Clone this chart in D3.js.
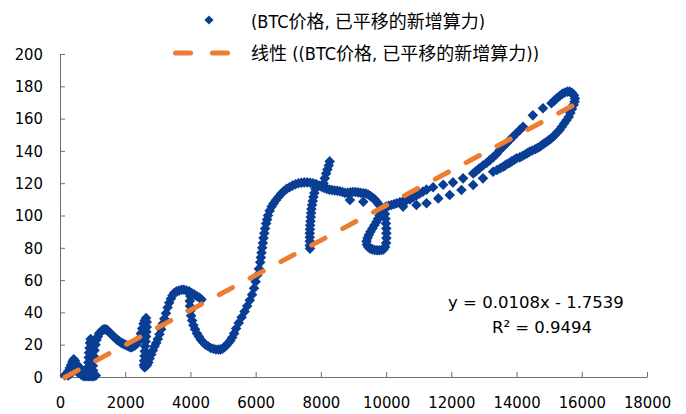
<!DOCTYPE html>
<html><head><meta charset="utf-8">
<script src="https://cdn.jsdelivr.net/npm/d3@7"></script>
<style>html,body{margin:0;padding:0;background:#fff;} svg{display:block;}</style>
</head><body><svg id="chart" width="686" height="414"></svg>
<script>
// ---- data: [BTC price, shifted new hash rate] ----
const segOrigin = [[150,1],[200,2],[250,3.5],[300,5.5],[340,7.5],[380,9.5],[420,11],[460,10],[500,8],[530,6],[560,4],[600,2.5],[640,1.5],[690,1],[740,0.5],[800,0.5],[860,0.5],[920,0.5],[980,0.5],[1040,0.5],[1100,1],
  [250,1],[320,2],[400,3.5],[470,5],[540,3],[600,6],[650,4],[700,3],[750,2],[350,3],[450,6],
  [850,3],[860,6],[870,9],[880,12],[890,15],[905,18],[920,21],[940,23.5],[960,22],[975,19],[985,16],[995,13],[1005,10],[1010,7],[1015,4]];
const segBump = [[1030,13],[1060,16.5],[1090,20],[1120,23],[1160,25],[1200,27],[1250,28],[1300,29],[1350,29.5],[1400,29.5],[1450,29],[1500,28],[1550,27],[1600,26],[1650,25],[1700,24],[1750,23],[1800,22.5],[1850,21.5],[1900,21],[1950,20.5],[2000,20],[2050,19.5],[2100,19],[2150,18.5],[2200,18.5],[2250,19],[2300,19.5],[2350,20.5],[2400,22],[2440,24],[2480,27],[2520,30],[2560,33],[2600,35],[2640,36.5],[2660,34],[2660,31],[2650,28],[2640,25],[2625,22],[2610,19],[2600,16],[2590,13],[2580,10],[2570,7.5],[2590,6],[2630,6.5],[2670,7.5]];
const segPlateau = [[2710,9],[2750,11.5],[2800,14],[2850,16.5],[2900,19],[2950,21],[3000,23.5],[3050,26.5],[3100,29.5],[3150,33],[3200,36],[3250,39.5],[3300,43],[3350,46],[3400,48.5],[3450,50.5],[3500,52],[3570,53],[3650,53.5],[3730,54],[3800,54],[3880,53.5],[3960,53],[4040,52],[4120,51],[4200,50],[4280,49],[4340,48],
  [4000,50],[3980,47],[3985,44],[4000,41],[4020,38],[4050,35],[4090,32],[4140,29.5],[4200,27],[4260,25],[4320,23],[4390,21.5],[4460,20],[4540,19],[4620,18],[4700,17.5],[4780,17],[4860,17],[4920,17],[4980,17.5],[5040,18.5],[5100,19.5],[5160,21],[5220,22.5],[5280,24.5],[5340,27],[5400,30]];
const segArc = [[5480,33.5],[5570,37],[5660,40.5],[5740,44],[5820,47.5],[5890,51],[5950,55],[6000,59],[6050,63],[6100,67],[6140,71],[6160,74],[6180,77],[6200,80],[6220,83],[6240,86],[6265,89],[6290,92],[6320,95],[6350,97.5],
  [6380,100],[6430,103],[6490,105.5],[6550,107.5],[6620,109.5],[6700,111.5],[6780,113.5],[6860,115],[6950,116.5],[7040,117.5],[7130,118.5],[7220,119.3],[7310,120],[7400,120.3],[7490,120.5],[7580,120.5],[7670,120.3],[7760,120],[7850,119.5],[7940,118.5],[8020,117.8]];
const segBranch = [[7830,116.5],[7800,114],[7770,111.5],[7750,109],[7730,106.5],[7710,104],[7700,101.5],[7690,99],[7680,96.5],[7670,94],[7665,91.5],[7660,89],[7660,86.5],[7660,84],[7660,81.5],[7665,79.5],
  [8080,120],[8120,123],[8160,126],[8200,128.5],[8240,131],[8270,133.5],
  [8100,117],[8180,116.5],[8260,116],[8340,115.8],[8420,115.5],[8500,115.3],[8580,115],[8660,114.5],[8740,114],[8820,114],[8900,114.3],[8980,114.5],[9060,114.5],[9140,114.3],[9220,114],[9300,113.8],[9380,113.6],[9450,113],[9520,112],[9590,111],[9650,110],[9710,108.5],[9770,107],[9830,105.5],[9880,104],
  [8890,109.6],[9300,108.5]];
const segLoop = [[9850,102],[9800,100],[9750,98],[9700,96],[9640,94],[9580,92],[9520,90],[9470,88],[9430,86],[9400,84],[9410,82],[9450,80.5],[9510,79.5],[9580,79],[9650,78.6],[9720,78.5],[9790,78.5],[9860,78.6],[9920,79],[9970,80.5],[10000,83],[10010,86],[10010,89],[10005,92],[9995,95],[9980,98],[9965,101],[9960,104]];
const segUpper = [[10000,105.5],[10080,106],[10160,106.5],[10240,107],[10320,107.6],[10420,108.2],[10520,108.8],[10620,109.3],[10730,110],[10830,111.2],[10930,112.4],[11030,113.6],[11130,114.8],[11240,116],[11440,117.5],[11750,119],[12050,120.5],[12360,123],[12670,126],[12750,127.3],[12850,129],[12970,131],[13080,132.5],[13180,134.3],[13280,136],[13380,138],[13490,140.5],[13590,142.6],[13690,144.6],[13790,146.7],[13890,148.8],[13990,150.8],[14100,153],[14200,155],[14500,162],[14810,166.4],[15070,169.5],[15150,171],[15230,172.5],[15320,174],[15400,175.3],[15480,176.2],[15560,176.7],[15630,176.7],[15700,176],[15760,174.5],[15790,172.5],[15780,170.5],[15750,168.5]];
const segLower = [[15700,166],[15650,163.5],[15600,161],[15530,159],[15460,157],[15390,155],[15320,153],[15250,151.5],[15180,150],[15120,148.8],[15050,147.5],[14980,146.5],[14910,145.5],[14840,144.5],[14770,143.5],[14710,142.6],[14640,141.8],[14570,141],[14480,140.2],[14400,139.5],[14330,138.6],[14260,137.8],[14180,136.8],[14100,136],[14000,135.4],[13930,134.5],[13850,133.5],[13780,132.6],[13700,131.7],[13640,130.9],[13590,130.2],[13500,129.3],[13400,128.2],[13280,127.1],[12970,123],[12670,118.9],[12310,115.8],[11950,112.7],[11600,110.6],[11240,107.6],[10930,106.5],[10520,105.5]];

const xTickValues = [0,2000,4000,6000,8000,10000,12000,14000,16000,18000];
const yTickValues = [0,20,40,60,80,100,120,140,160,180,200];
const trendSlope = 0.0108, trendIntercept = -1.7539;
const seriesLabel = "(BTC价格, 已平移的新增算力)";
const trendLabel = "线性 ((BTC价格, 已平移的新增算力))";
const equationText = "y = 0.0108x - 1.7539";
const r2Text = "R² = 0.9494";

// ---- drawing ----
const BLUE = "#0A3D94", ORANGE = "#ED7D31", AXIS = "#6e6e6e";
const TICKFONT = "'DejaVu Sans Condensed','DejaVu Sans',sans-serif";
const points = [].concat(segOrigin, segBump, segPlateau, segArc, segBranch, segLoop, segUpper, segLower)
  .map(([p, h]) => ({p, h}));

const svg = d3.select("#chart");
const x = d3.scaleLinear().domain([0, 18000]).range([60, 647]);
const y = d3.scaleLinear().domain([0, 200]).range([377, 54]);

const xAxis = svg.append("g").attr("transform", "translate(0,377)")
  .call(d3.axisBottom(x).tickValues(xTickValues).tickFormat(d3.format("d")).tickSizeInner(-5).tickSizeOuter(0).tickPadding(19));
const yAxis = svg.append("g").attr("transform", "translate(60,0)")
  .call(d3.axisLeft(y).tickValues(yTickValues).tickFormat(d3.format("d")).tickSizeInner(-5).tickSizeOuter(0).tickPadding(17));
[xAxis, yAxis].forEach(g => {
  g.selectAll("path,line").attr("stroke", AXIS);
  g.selectAll("text").attr("fill", "#000").style("font-family", TICKFONT).style("font-size", "16.5px");
});

const diamond = d3.symbol(d3.symbolSquare, 56);
svg.append("g").selectAll("path").data(points).join("path")
  .attr("transform", d => `translate(${x(d.p)},${y(d.h)}) rotate(45)`)
  .attr("d", diamond)
  .attr("fill", BLUE);

const xr = d3.extent(points, d => d.p);
const trend = xr.map(v => ({p: v, h: trendSlope * v + trendIntercept}));
svg.append("path").datum(trend)
  .attr("d", d3.line().x(d => x(d.p)).y(d => y(d.h)))
  .attr("fill", "none").attr("stroke", ORANGE).attr("stroke-width", 5)
  .attr("stroke-linecap", "round").attr("stroke-dasharray", "15,20");

// equation
svg.append("text").attr("x", 536).attr("y", 308).attr("text-anchor", "middle")
  .style("font-family", "'DejaVu Sans',sans-serif").style("font-size", "16.5px").text(equationText);
svg.append("text").attr("x", 542).attr("y", 333).attr("text-anchor", "middle")
  .style("font-family", "'DejaVu Sans',sans-serif").style("font-size", "16.5px").text(r2Text);

// legend
const LEGFONT = "'DejaVu Sans Condensed','Noto Sans CJK SC',sans-serif";
svg.append("path").attr("transform", "translate(209,20) rotate(45)")
  .attr("d", d3.symbol(d3.symbolSquare, 42)).attr("fill", BLUE);
svg.append("text").attr("x", 251).attr("y", 27.5)
  .style("font-family", LEGFONT).style("font-size", "18px").text(seriesLabel);
svg.append("line").attr("x1", 175.5).attr("x2", 228).attr("y1", 53).attr("y2", 53)
  .attr("stroke", ORANGE).attr("stroke-width", 5).attr("stroke-linecap", "round").attr("stroke-dasharray", "15,22");
svg.append("text").attr("x", 251).attr("y", 60)
  .style("font-family", LEGFONT).style("font-size", "18px").text(trendLabel);
</script></body></html>
